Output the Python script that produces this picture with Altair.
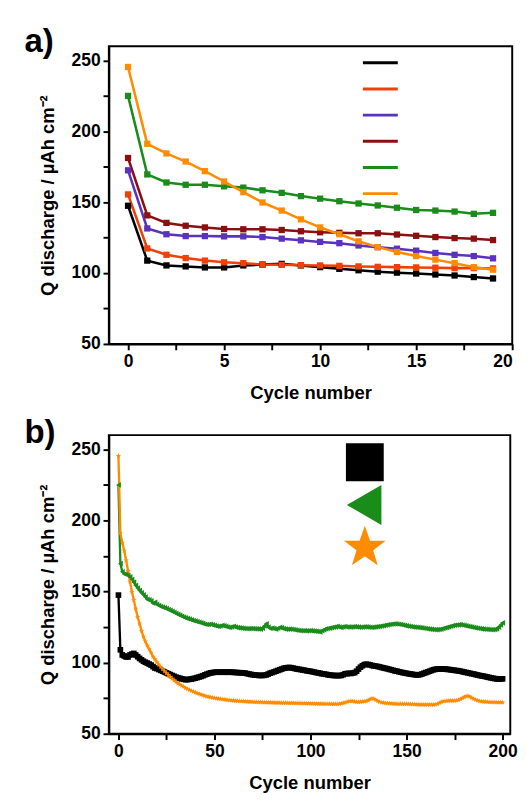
import altair as alt
import pandas as pd

FONT = "Liberation Sans"

# ---------------- panel a) data ----------------
cycles_a = list(range(20))
series_a = ["blank", "1 dip TiO₂ NPs", "2 dips TiO₂ NPs", "3 dips TiO₂ NPs",
            "4 dips TiO₂ NPs", "7 dips TiO₂ NPs"]
colors_a = ["#000000", "#f0400a", "#5a32c0", "#8b0f0f", "#1a8c1a", "#ff8c00"]
blank_a = [147.5, 108.8, 105.4, 104.7, 104.0, 104.0, 105.4, 106.0, 106.5, 105.4,
           104.2, 103.0, 102.0, 101.0, 100.3, 99.7, 99.0, 98.3, 97.2, 96.2]
dip1_a = [155.5, 117.4, 112.9, 110.6, 108.8, 107.6, 107.0, 106.0, 105.8, 105.6,
          105.4, 105.1, 104.7, 104.4, 104.2, 104.0, 103.8, 103.5, 103.5, 103.3]
dip2_a = [172.5, 131.5, 127.4, 126.1, 126.1, 125.9, 125.9, 125.4, 124.3, 123.1,
          122.0, 121.1, 119.5, 118.3, 117.2, 115.8, 114.2, 112.9, 112.0, 110.4]
dip3_a = [181.2, 140.7, 135.4, 133.4, 132.2, 131.1, 130.9, 130.9, 130.4, 129.5,
          128.8, 128.4, 128.1, 128.1, 127.2, 126.3, 125.4, 124.7, 124.3, 123.3]
dip4_a = [225.0, 169.6, 163.9, 162.3, 162.3, 161.2, 160.3, 158.4, 156.6, 154.3,
          152.5, 150.7, 149.1, 147.7, 146.1, 144.5, 144.1, 143.4, 141.8, 142.5]
dip7_a = [245.4, 191.2, 184.4, 178.7, 171.9, 164.6, 157.1, 149.8, 144.1, 137.9,
          132.2, 127.4, 122.4, 118.3, 114.9, 112.0, 109.5, 107.0, 104.2, 102.4]

# ---------------- panel b) data ----------------
cycles_b = list(range(201))
series_b = ["blank", "4 dips TiO₂ NPs", "7 dips TiO₂ NPs"]
colors_b = ["#000000", "#1a8c1a", "#ff8c00"]
STAR = ("M0,-1L0.235,-0.324L0.951,-0.309L0.38,0.124L0.588,0.809L0,0.4"
        "L-0.588,0.809L-0.38,0.124L-0.951,-0.309L-0.235,-0.324Z")
shapes_b = ["square", "triangle-left", STAR]
blank_b = [
    147.5, 109.0, 105.4, 104.7, 104.0, 104.0, 105.4, 106.0, 106.5, 105.4,
    104.2, 103.0, 102.0, 101.0, 100.3, 99.7, 99.0, 98.3, 97.2, 96.2,
    95.8, 95.2, 94.6, 94.0, 93.4, 92.8, 92.2, 91.6, 91.0, 90.4,
    89.8, 89.4, 89.0, 88.6, 88.3, 88.0, 88.1, 88.3, 88.5, 88.8,
    89.1, 89.5, 89.9, 90.3, 90.8, 91.4, 91.9, 92.4, 92.8, 93.0,
    93.2, 93.3, 93.3, 93.2, 93.4, 93.3, 93.2, 93.3, 93.4, 93.2,
    93.2, 93.1, 93.0, 92.9, 92.9, 92.8, 92.6, 92.3, 92.0, 91.7,
    91.5, 91.3, 91.2, 91.0, 91.0, 91.0, 91.1, 91.4, 92.0, 92.6,
    93.0, 93.5, 94.0, 94.5, 95.0, 95.5, 96.0, 96.3, 96.5, 96.6,
    96.4, 96.1, 95.8, 95.5, 95.3, 95.1, 94.8, 94.6, 94.3, 94.1,
    93.9, 93.6, 93.3, 93.0, 92.8, 92.5, 92.2, 92.0, 91.8, 91.5,
    91.3, 91.1, 91.0, 90.9, 90.9, 90.9, 91.0, 91.5, 92.2, 92.3,
    92.5, 92.4, 92.7, 93.0, 94.0, 95.5, 96.8, 97.8, 98.6, 98.9,
    98.7, 98.4, 98.0, 97.7, 97.5, 97.3, 97.0, 96.6, 96.3, 96.0,
    95.7, 95.3, 95.0, 94.6, 94.2, 94.0, 93.6, 93.3, 93.0, 92.7,
    92.5, 92.2, 92.0, 91.8, 91.6, 91.4, 91.4, 91.6, 92.0, 92.5,
    93.0, 93.5, 94.0, 94.5, 95.0, 95.3, 95.5, 95.5, 95.6, 95.5,
    95.5, 95.3, 95.2, 95.0, 94.8, 94.6, 94.4, 94.3, 94.0, 93.7,
    93.4, 93.1, 92.8, 92.5, 92.2, 92.0, 91.6, 91.3, 91.0, 90.7,
    90.5, 90.2, 89.9, 89.6, 89.3, 89.0, 88.8, 88.6, 88.5, 88.6,
    88.6]
dip4_b = [
    225.0, 169.6, 163.9, 162.3, 162.3, 161.2, 160.3, 158.4, 156.6, 154.3,
    152.5, 150.7, 149.1, 147.7, 146.1, 144.5, 144.1, 143.4, 141.8, 142.5,
    141.0, 140.2, 139.5, 139.0, 138.6, 138.0, 137.3, 136.8, 136.0, 135.3,
    134.6, 133.9, 133.3, 132.6, 132.0, 131.5, 131.0, 130.6, 130.1, 129.6,
    129.2, 128.8, 128.4, 128.0, 127.6, 127.0, 126.8, 126.8, 127.0, 126.6,
    126.2, 125.8, 125.5, 125.8, 126.2, 125.9, 125.5, 125.0, 124.8, 125.2,
    125.5, 125.0, 124.6, 124.5, 124.3, 124.1, 124.0, 123.9, 123.9, 124.0,
    123.9, 123.8, 123.8, 123.7, 123.6, 124.2, 125.8, 127.3, 125.0, 124.0,
    124.3, 124.0, 123.5, 124.2, 124.8, 124.5, 123.9, 123.6, 123.5, 123.6,
    123.5, 123.3, 123.0, 122.8, 122.6, 122.5, 122.4, 122.5, 122.3, 122.4,
    122.5, 122.3, 122.2, 122.0, 121.9, 121.6, 122.4, 123.2, 123.8, 124.0,
    124.3, 124.6, 124.9, 125.2, 125.5, 125.0, 124.8, 125.2, 125.4, 125.0,
    125.1, 125.0, 125.2, 125.3, 125.1, 125.0, 124.9, 125.0, 125.2, 125.1,
    125.0, 124.9, 124.8, 125.0, 125.1, 125.3, 125.5, 125.8, 126.0, 126.3,
    126.6, 126.8, 127.0, 127.2, 127.3, 127.2, 127.0, 126.8, 126.5, 126.2,
    125.9, 125.6, 125.4, 125.2, 125.0, 124.9, 124.8, 124.6, 124.4, 124.2,
    124.0, 123.8, 123.6, 123.4, 123.3, 123.2, 123.2, 123.3, 123.6, 124.0,
    124.4, 124.8, 125.2, 125.6, 126.0, 126.3, 126.5, 126.6, 126.7, 126.5,
    126.2, 125.9, 125.6, 125.3, 125.0, 124.7, 124.4, 124.2, 124.0, 123.8,
    123.6, 123.5, 123.4, 123.3, 123.2, 123.2, 123.3, 123.8, 125.0, 126.5,
    128.0]
dip7_b = [
    245.4, 191.2, 184.4, 178.7, 171.9, 164.6, 157.1, 149.8, 144.1, 137.9,
    132.2, 127.4, 122.4, 118.3, 114.9, 112.0, 109.5, 107.0, 104.2, 102.4,
    100.4, 98.6, 97.0, 95.5, 94.0, 92.6, 91.3, 90.0, 88.8, 87.6,
    86.5, 85.5, 84.6, 83.8, 83.0, 82.2, 81.5, 80.8, 80.2, 79.6,
    79.0, 78.5, 78.0, 77.5, 77.1, 76.7, 76.3, 76.0, 75.7, 75.4,
    75.1, 74.9, 74.7, 74.5, 74.3, 74.1, 73.9, 73.7, 73.6, 73.4,
    73.3, 73.2, 73.1, 73.0, 72.9, 72.8, 72.7, 72.6, 72.5, 72.5,
    72.4, 72.3, 72.3, 72.2, 72.2, 72.1, 72.1, 72.0, 72.0, 72.0,
    71.9, 71.9, 71.8, 71.8, 71.8, 71.7, 71.7, 71.7, 71.6, 71.6,
    71.6, 71.6, 71.5, 71.5, 71.5, 71.4, 71.4, 71.4, 71.3, 71.3,
    71.3, 71.2, 71.2, 71.2, 71.1, 71.1, 71.1, 71.0, 71.0, 71.0,
    71.0, 70.9, 70.9, 70.9, 70.9, 71.0, 71.3, 71.6, 72.0, 72.4,
    72.8, 73.0, 72.9, 72.6, 72.4, 72.3, 72.5, 72.6, 72.8, 73.0,
    73.5, 74.2, 74.8, 74.5, 73.8, 73.0, 72.4, 72.0, 71.8, 71.6,
    71.5, 71.4, 71.3, 71.2, 71.1, 71.0, 71.0, 71.0, 71.0, 71.0,
    71.0, 70.9, 70.8, 70.8, 70.7, 70.6, 70.6, 70.5, 70.5, 70.5,
    70.4, 70.4, 70.4, 70.5, 70.5, 70.6, 71.0, 71.6, 72.3, 72.8,
    73.0, 73.1, 73.2, 73.3, 73.2, 73.3, 73.5, 73.8, 74.3, 75.0,
    75.8, 76.4, 76.6, 76.0, 75.2, 74.5, 73.9, 73.4, 73.0, 72.8,
    72.6, 72.5, 72.4, 72.3, 72.3, 72.2, 72.2, 72.1, 72.1, 72.1,
    72.0]

y_ticks = [50, 75, 100, 125, 150, 175, 200, 225, 250]
x_ticks_a = [0, 2.5, 5, 7.5, 10, 12.5, 15, 17.5, 20]
x_ticks_b = [0, 25, 50, 75, 100, 125, 150, 175, 200]


def build(cycles, names, arrays):
    rows = []
    for i, (name, vals) in enumerate(zip(names, arrays)):
        for c, v in zip(cycles, vals):
            rows.append({"cycle": c, "q": v, "series": name, "k": i})
    return pd.DataFrame(rows)


df_a = build(cycles_a, series_a, [blank_a, dip1_a, dip2_a, dip3_a, dip4_a, dip7_a])
df_b = build(cycles_b, series_b, [blank_b, dip4_b, dip7_b])


def y_axis():
    return alt.Axis(title="Q discharge / µAh cm⁻²", values=y_ticks,
                    labelExpr="datum.value % 50 === 0 ? datum.label : ''",
                    tickSize=6, labelPadding=3, titlePadding=14)


def x_axis(values, step):
    return alt.Axis(title="Cycle number", values=values,
                    labelExpr=f"datum.value % {step} === 0 ? datum.label : ''",
                    tickSize=6, labelPadding=3, titlePadding=14)


def line_legend(lx, ly, off, rowpad):
    # line-segment part of each legend entry
    return alt.Legend(orient="none", legendX=lx, legendY=ly, title=None,
                      symbolType="stroke", symbolSize=1296, symbolStrokeWidth=3,
                      labelFont=FONT, labelFontSize=14, labelFontWeight="bold",
                      labelColor="black", labelOffset=off,
                      rowPadding=rowpad, padding=0)


def marker_legend(lx, ly, rowpad, size, **extra):
    # marker part of each legend entry, drawn over the line segment
    return alt.Legend(orient="none", legendX=lx, legendY=ly, title=None,
                      symbolSize=size, symbolStrokeWidth=0, symbolOpacity=1,
                      labelFont=FONT, labelFontSize=14, labelFontWeight="bold",
                      labelOpacity=0, rowPadding=rowpad, padding=0, **extra)


# ---------------- panel a) ----------------
xa = alt.X("cycle:Q", scale=alt.Scale(domain=[-1, 20], nice=False, zero=False),
           axis=x_axis(x_ticks_a, 5))
ya = alt.Y("q:Q", scale=alt.Scale(domain=[50, 260], nice=False, zero=False), axis=y_axis())

lines_a = alt.Chart(df_a).mark_line(strokeWidth=2.6).encode(
    x=xa, y=ya,
    color=alt.Color("series:N", scale=alt.Scale(domain=series_a, range=colors_a),
                    legend=line_legend(260.5, -2.5, 2.5, -16.6)),
    order="cycle:Q", detail="k:N")
pts_a = alt.Chart(df_a).mark_point(filled=True, shape="square", size=42, opacity=1).encode(
    x=xa, y=ya,
    fill=alt.Fill("series:N", scale=alt.Scale(domain=series_a, range=colors_a),
                  legend=marker_legend(273, 10, 8.4, 49, symbolType="square")))

panel_a = alt.layer(lines_a, pts_a).properties(
    width=416, height=307,
    title=alt.Title("a)", anchor="start", dx=-15, offset=-15,
                    fontSize=34, fontWeight="bold", font=FONT, color="black"))

# ---------------- panel b) ----------------
xb = alt.X("cycle:Q", scale=alt.Scale(domain=[-5, 204], nice=False, zero=False),
           axis=x_axis(x_ticks_b, 50))
yb = alt.Y("q:Q", scale=alt.Scale(domain=[50, 260], nice=False, zero=False), axis=y_axis())

lines_b = alt.Chart(df_b).mark_line(strokeWidth=2.4).encode(
    x=xb, y=yb,
    color=alt.Color("series:N", scale=alt.Scale(domain=series_b, range=colors_b),
                    legend=line_legend(244.5, 8.5, 1.5, -18)),
    order="cycle:Q", detail="k:N")
mleg_b = marker_legend(257, 21, 7, 49)
pts_b = alt.Chart(df_b).mark_point(filled=True, size=34, opacity=1).encode(
    x=xb, y=yb,
    fill=alt.Fill("series:N", scale=alt.Scale(domain=series_b, range=colors_b), legend=mleg_b),
    shape=alt.Shape("series:N", scale=alt.Scale(domain=series_b, range=shapes_b), legend=mleg_b))

panel_b = alt.layer(lines_b, pts_b).properties(
    width=414, height=308,
    title=alt.Title("b)", anchor="start", dx=-15, offset=-15,
                    fontSize=34, fontWeight="bold", font=FONT, color="black"))

chart = alt.vconcat(panel_a, panel_b, spacing=13).resolve_scale(
    color="independent", fill="independent", shape="independent"
).properties(
    padding={"left": 15, "top": 4, "right": 0, "bottom": 0},
).configure_view(
    stroke="black", strokeWidth=2
).configure_axis(
    grid=False, domainColor="black", domainWidth=2, tickColor="black", tickWidth=2,
    labelFont=FONT, labelFontSize=18, labelFontWeight="bold", labelColor="black",
    titleFont=FONT, titleFontSize=19, titleFontWeight="bold", titleColor="black",
)

chart.save("out.html", embed_options={"renderer": "svg", "actions": False})
